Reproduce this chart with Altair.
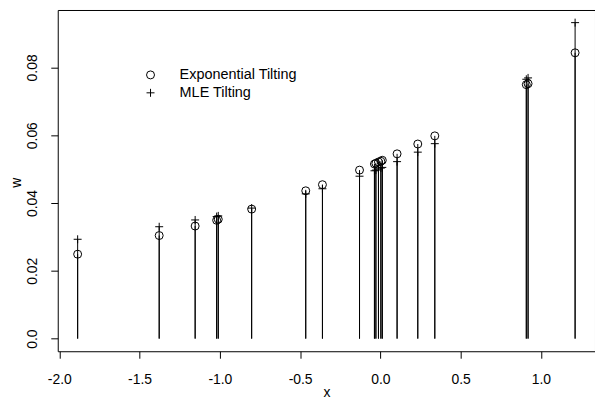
import altair as alt
import pandas as pd

# values
x_vals = [-1.886, -1.378, -1.154, -1.020, -1.010, -0.802, -0.465, -0.361, -0.130,
          -0.037, -0.028, -0.012, 0.003, 0.012, 0.104, 0.233, 0.339, 0.909, 0.920, 1.213]
w_exp = [0.0249, 0.0304, 0.0332, 0.0349, 0.0352, 0.0382, 0.0436, 0.0454, 0.0497,
         0.0515, 0.0517, 0.0521, 0.0523, 0.0526, 0.0545, 0.0574, 0.0598, 0.0749, 0.0752, 0.0843]
w_mle = [0.0293, 0.0330, 0.0350, 0.0360, 0.0362, 0.0385, 0.0427, 0.0442, 0.0479,
         0.0495, 0.0497, 0.0500, 0.0503, 0.0505, 0.0522, 0.0550, 0.0575, 0.0765, 0.0769, 0.0932]
methods = ["Exponential Tilting", "MLE Tilting"]
x_ticks = [-2.0, -1.5, -1.0, -0.5, 0.0, 0.5, 1.0]
y_ticks = [0.0, 0.02, 0.04, 0.06, 0.08]

rows = []
for xv, we, wm in zip(x_vals, w_exp, w_mle):
    rows.append({"x": xv, "w": we, "method": methods[0]})
    rows.append({"x": xv, "w": wm, "method": methods[1]})
df = pd.DataFrame(rows)

# R-style 4% axis extension
xr = max(x_vals) - min(x_vals)
x_dom = [min(x_vals) - 0.04 * xr, max(x_vals) + 0.04 * xr]
ymax = max(max(w_exp), max(w_mle))
y_dom = [-0.04 * ymax, 1.04 * ymax]

FONT = "Liberation Sans"
FS = 14
PLUS = "M-1,0L1,0M0,-1L0,1"

xenc = alt.X("x:Q", scale=alt.Scale(domain=x_dom, nice=False, zero=False),
             axis=alt.Axis(values=x_ticks, title="x", tickSize=7, labelPadding=25,
                           labelBaseline="alphabetic",
                           labelExpr="(datum.value < 0 ? '-' : '') + format(abs(datum.value), '.1f')",
                           titleX=270, titleY=45, titleBaseline="alphabetic",
                           titleAnchor="middle"))
yenc = alt.Y("w:Q", scale=alt.Scale(domain=y_dom, nice=False, zero=False),
             axis=alt.Axis(values=y_ticks, title="w", tickSize=7, labelPadding=14,
                           labelAngle=-90, labelAlign="center", labelBaseline="alphabetic",
                           labelExpr="datum.value == 0 ? '0.0' : format(datum.value, '.2f')",
                           titleAngle=-90, titleX=-37, titleY=173, titleAlign="center",
                           titleBaseline="alphabetic"))

stems = alt.Chart(df).mark_rule(color="black", strokeWidth=1).encode(
    x=xenc, y=yenc, y2=alt.datum(0), detail="method:N")

points = alt.Chart(df).mark_point(filled=False, color="black", strokeWidth=1,
                                  size=64, opacity=1).encode(
    x="x:Q", y="w:Q",
    shape=alt.Shape("method:N",
                    scale=alt.Scale(domain=methods, range=["circle", PLUS]),
                    legend=alt.Legend(title=None, orient="none", legendX=86, legendY=58,
                                      labelFont=FONT, labelFontSize=14.5, labelColor="black",
                                      labelOffset=22, symbolSize=64, symbolStrokeWidth=1,
                                      symbolStrokeColor="black", symbolFillColor="transparent",
                                      rowPadding=3, padding=0)))

chart = (stems + points).properties(
    width=540, height=343,
    autosize=alt.AutoSizeParams(type="none"),
    padding={"left": 50, "top": 1, "right": 0, "bottom": 49},
).configure_view(stroke="black", strokeWidth=1).configure_axis(
    domain=False, grid=False, tickColor="black", tickWidth=1,
    labelFont=FONT, labelFontSize=FS, labelColor="black",
    titleFont=FONT, titleFontSize=FS, titleFontWeight="normal", titleColor="black",
)

chart.save("out.html", embed_options={"renderer": "svg", "actions": False})
